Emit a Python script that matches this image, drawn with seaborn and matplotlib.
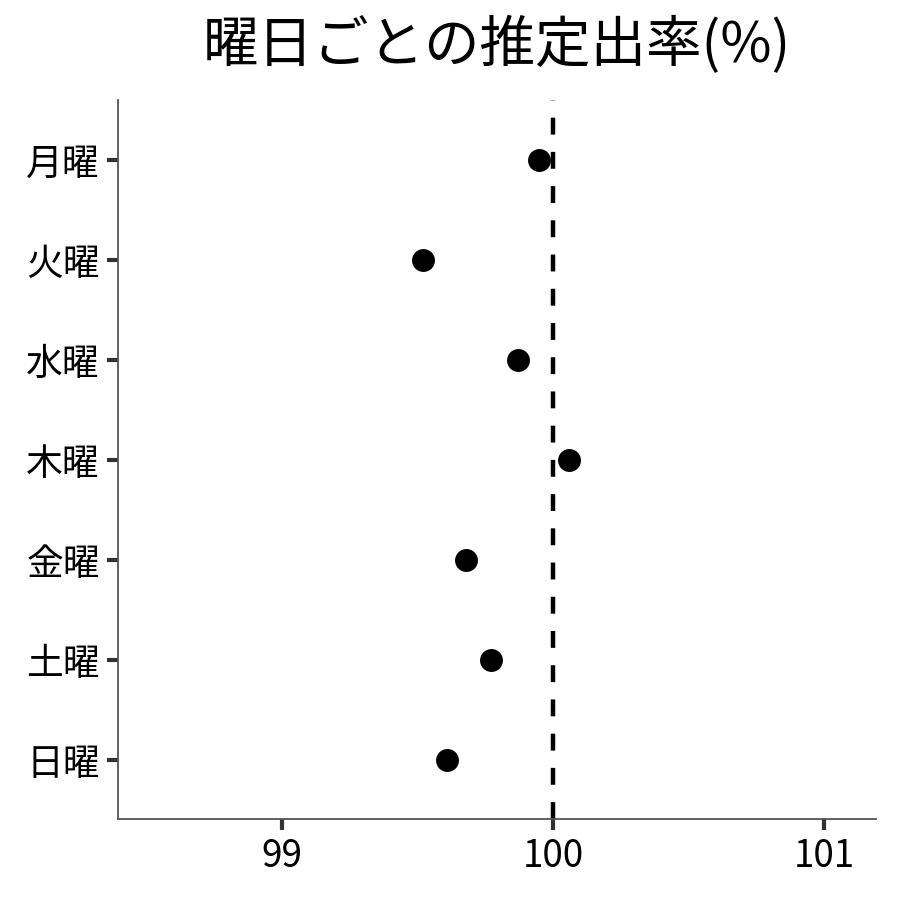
import pandas as pd
import seaborn as sns
import matplotlib.pyplot as plt

# Estimated rate per weekday
days = ["月曜", "火曜", "水曜", "木曜", "金曜", "土曜", "日曜"]
rates = [99.95, 99.52, 99.87, 100.06, 99.68, 99.77, 99.61]
x_ticks = [99, 100, 101]

df = pd.DataFrame({"day": days, "rate": rates})

sns.set_style("white")
plt.rcParams['font.family'] = ['Noto Sans CJK JP', 'DejaVu Sans']

fig = plt.figure(figsize=(9, 9), dpi=100)
ax = fig.add_axes([0.131, 0.09, 0.842, 0.799])

ax.axvline(100, color="black", linestyle=(0, (3.8, 3.9)), linewidth=3.2, zorder=1)
sns.stripplot(data=df, x="rate", y="day", order=days, jitter=False,
              color="black", size=16.5, ax=ax, zorder=3)

ax.set_xlim(98.396, 101.19)
ax.set_ylim(6.59, -0.6)
ax.set_xticks(x_ticks)
ax.set_xticklabels([str(t) for t in x_ticks])
ax.set_xlabel("")
ax.set_ylabel("")
ax.set_title("曜日ごとの推定出率(%)", fontsize=40, pad=27, color="black")

ax.tick_params(axis="both", bottom=True, left=True, length=8, width=3,
               color="#333333", labelsize=26.5, labelcolor="black", pad=5)
for side in ["top", "right"]:
    ax.spines[side].set_visible(False)
for side in ["left", "bottom"]:
    ax.spines[side].set_color("#555555")
    ax.spines[side].set_linewidth(1.3)

fig.savefig("out.png", dpi=100)
